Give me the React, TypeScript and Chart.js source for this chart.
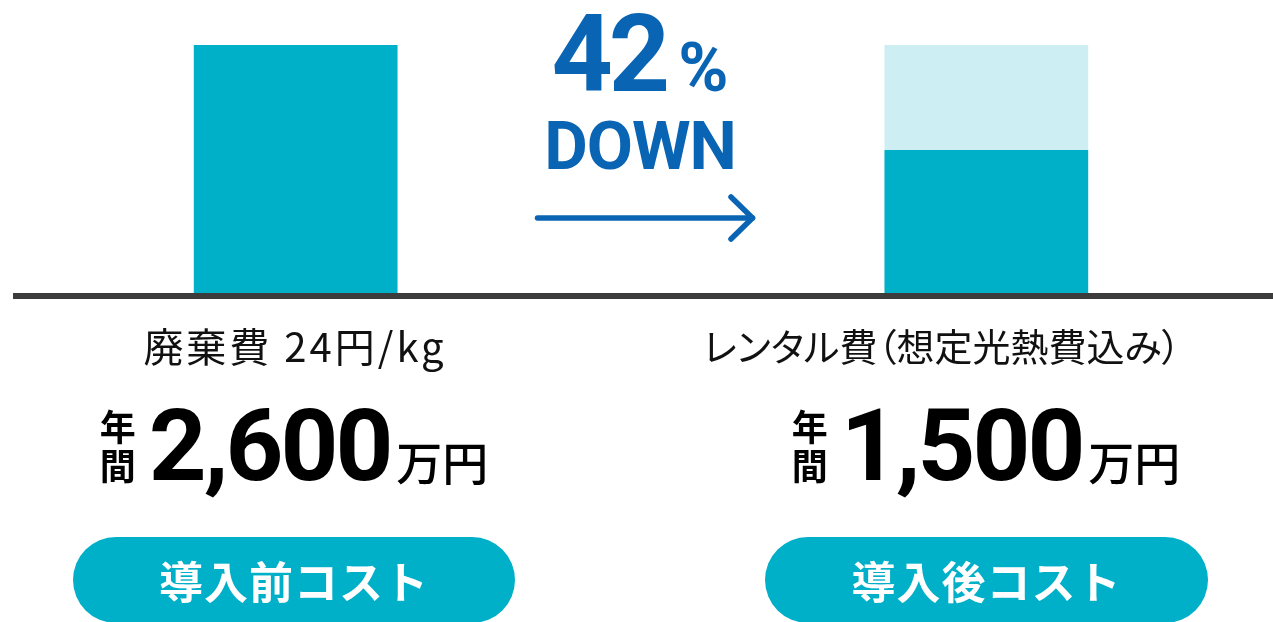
import React, { useEffect, useRef } from 'react';
import { Chart, registerables } from 'chart.js';

Chart.register(...registerables);

// ---- data ----
const categories = ['導入前コスト', '', '導入後コスト'];
const costValues: (number | null)[] = [2600, null, 1500];
const savingValues: (number | null)[] = [0, null, 1100];
const yAxisMax = 2600;
const itemLabels = ['廃棄費 24円/kg', 'レンタル費（想定光熱費込み）'];
const annualAmounts = ['2,600', '1,500'];
const reductionPercent = '42';
const reductionWord = 'DOWN';

// ---- styles ----
const TEAL = '#00afc8';
const LIGHT_TEAL = '#cdeef2';
const BLUE = '#0a64b4';
const DARK = '#3c3c3c';
const CJK = '"Noto Sans CJK JP", "Noto Sans", sans-serif';
const NUM = 'Roboto, "DejaVu Sans", sans-serif';

const decorPlugin = {
  id: 'decor',
  afterDatasetsDraw(chart: any) {
    const { ctx, chartArea, scales } = chart;
    ctx.save();
    // baseline
    ctx.fillStyle = DARK;
    ctx.fillRect(13, chartArea.bottom, chart.width - 13, 6);
    // arrow in the middle slot
    const cx = scales.x.getPixelForValue(1) + 4;
    const y = 218;
    ctx.strokeStyle = BLUE;
    ctx.lineWidth = 5.5;
    ctx.lineCap = 'round';
    ctx.lineJoin = 'round';
    ctx.beginPath();
    ctx.moveTo(cx - 107.5, y);
    ctx.lineTo(cx + 107.5, y);
    ctx.stroke();
    ctx.beginPath();
    ctx.moveTo(cx + 86, y - 21);
    ctx.lineTo(cx + 107.5, y);
    ctx.lineTo(cx + 86, y + 21);
    ctx.stroke();
    ctx.restore();
  },
};

function AmountBlock({ center, amount }: { center: number; amount: string }) {
  return (
    <div
      style={{
        position: 'absolute',
        left: center,
        top: 395,
        transform: 'translateX(-50%)',
        whiteSpace: 'nowrap',
        fontFamily: NUM,
        fontSize: 101,
        lineHeight: 1,
        color: '#000',
      }}
    >
      <span
        style={{
          display: 'inline-block',
          fontFamily: CJK,
          fontWeight: 700,
          fontSize: 36,
          lineHeight: '39px',
          marginRight: 13,
          verticalAlign: 'baseline',
        }}
      >
        年
        <br />間
      </span>
      <span style={{ fontWeight: 700, letterSpacing: -3, verticalAlign: 'baseline' }}>{amount}</span>
      <span
        style={{
          fontFamily: CJK,
          fontWeight: 500,
          fontSize: 46,
          marginLeft: 6,
          verticalAlign: 'baseline',
        }}
      >
        万円
      </span>
    </div>
  );
}

function Pill({ left, width, text }: { left: number; width: number; text: string }) {
  return (
    <div
      style={{
        position: 'absolute',
        left,
        top: 537,
        width,
        height: 86,
        borderRadius: 43,
        background: TEAL,
        color: '#fff',
        display: 'flex',
        alignItems: 'center',
        justifyContent: 'center',
        fontFamily: CJK,
        fontWeight: 700,
        fontSize: 44,
        letterSpacing: 1,
      }}
    >
      {text}
    </div>
  );
}

export default function App() {
  const canvasRef = useRef<HTMLCanvasElement | null>(null);

  useEffect(() => {
    const canvas = canvasRef.current;
    if (!canvas) return;
    const chart = new Chart(canvas, {
      type: 'bar',
      data: {
        labels: categories,
        datasets: [
          {
            label: 'コスト',
            data: costValues,
            backgroundColor: TEAL,
            borderWidth: 0,
            barPercentage: 0.59,
            categoryPercentage: 1,
          },
          {
            label: '削減分',
            data: savingValues,
            backgroundColor: LIGHT_TEAL,
            borderWidth: 0,
            barPercentage: 0.59,
            categoryPercentage: 1,
          },
        ],
      },
      options: {
        responsive: false,
        animation: false,
        devicePixelRatio: 1,
        layout: { padding: { top: 45, bottom: 622 - 293, left: 123, right: 114 } },
        plugins: { legend: { display: false }, tooltip: { enabled: false } },
        scales: {
          x: { display: false, stacked: true },
          y: { display: false, stacked: true, min: 0, max: yAxisMax },
        },
      },
      plugins: [decorPlugin],
    });
    return () => chart.destroy();
  }, []);

  return (
    <div style={{ position: 'fixed', left: 0, top: 0, width: 1273, height: 622, background: '#fff', overflow: 'hidden' }}>
      <canvas ref={canvasRef} width={1273} height={622} style={{ position: 'absolute', left: 0, top: 0 }} />

      {/* 42% DOWN */}
      <div
        style={{
          position: 'absolute',
          left: 640,
          top: 1,
          transform: 'translateX(-50%)',
          whiteSpace: 'nowrap',
          fontFamily: NUM,
          fontWeight: 700,
          color: BLUE,
          fontSize: 107,
          lineHeight: 1,
        }}
      >
        <span style={{ letterSpacing: -4 }}>{reductionPercent}</span>
        <span style={{ fontSize: 68, marginLeft: 12 }}>%</span>
      </div>
      <div
        style={{
          position: 'absolute',
          left: 640,
          top: 113,
          transform: 'translateX(-50%)',
          whiteSpace: 'nowrap',
          fontFamily: NUM,
          fontWeight: 700,
          color: BLUE,
          fontSize: 67,
          lineHeight: 1,
          letterSpacing: -1,
        }}
      >
        {reductionWord}
      </div>

      {/* item labels */}
      <div
        style={{
          position: 'absolute',
          left: 295,
          top: 325,
          transform: 'translateX(-50%)',
          whiteSpace: 'nowrap',
          fontFamily: CJK,
          fontSize: 40,
          lineHeight: 1,
          letterSpacing: 3,
          color: '#111',
        }}
      >
        {itemLabels[0]}
      </div>
      <div
        style={{
          position: 'absolute',
          left: 942,
          top: 326,
          transform: 'translateX(-50%)',
          whiteSpace: 'nowrap',
          fontFamily: CJK,
          fontSize: 38,
          lineHeight: 1,
          fontFeatureSettings: '"palt"',
          color: '#111',
        }}
      >
        {itemLabels[1]}
      </div>

      <AmountBlock center={294} amount={annualAmounts[0]} />
      <AmountBlock center={986} amount={annualAmounts[1]} />

      <Pill left={73} width={442} text={categories[0]} />
      <Pill left={765} width={443} text={categories[2]} />
    </div>
  );
}
